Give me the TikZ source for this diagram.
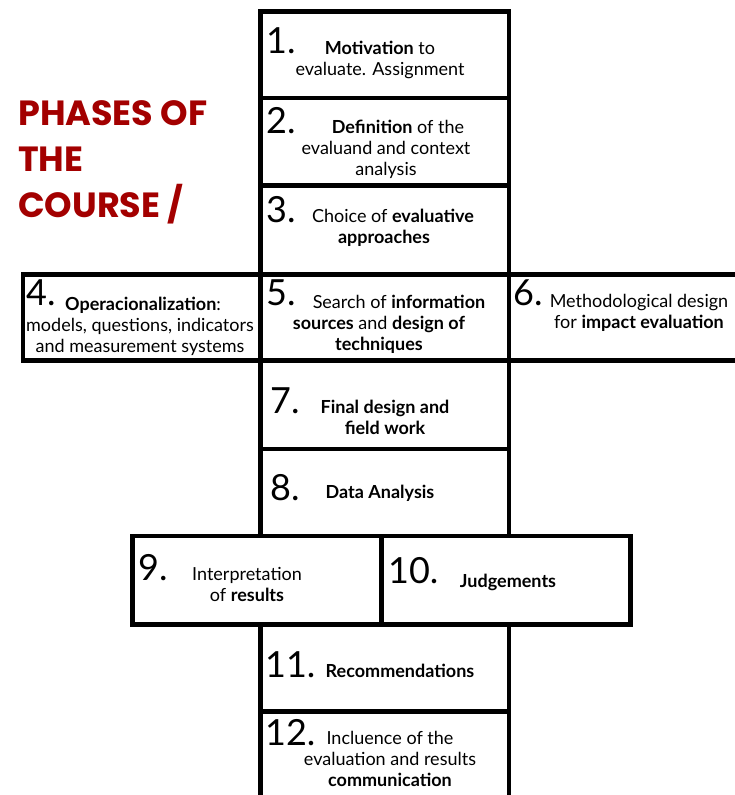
\documentclass[tikz,border=0pt]{standalone}
\usepackage{fontspec}
\setmainfont{Lato}
\newfontfamily\numfont{Lato}
\newfontfamily\titlefont{Poppins}
\definecolor{phasered}{RGB}{163,0,0}
\tikzset{
	phase/.style={draw=black,rectangle,line width=4.5pt,inner sep=0pt,outer sep=0pt,anchor=north west},
	num/.style={font=\numfont\fontsize{36}{36}\selectfont,text=black,anchor=base west,inner sep=0pt},
	txt/.style={font=\fontsize{18}{21}\selectfont,text=black,align=center,anchor=base,inner sep=0pt},
	headline/.style={font=\titlefont\bfseries\fontsize{35}{46}\selectfont,text=phasered,align=left,anchor=base west,inner sep=0pt}
}

\begin{document}
\begin{tikzpicture}[x = {(1pt,0pt)},
                    y = {(0pt,-1pt)}]

\useasboundingbox (0,0) rectangle (735,795);

% title
\node[headline] (head) at (18,217) {PHASES OF\\THE\\COURSE /};

% boxes
\node[phase,minimum width=248.5pt,minimum height=86.5pt] (b1) at (260.5,11.5) {};
\node[phase,minimum width=248.5pt,minimum height=87.5pt] (b2) at (260.5,98) {};
\node[phase,minimum width=248.5pt,minimum height=89pt] (b3) at (260.5,185.5) {};
\node[phase,minimum width=237.5pt,minimum height=86pt] (b4) at (23,274.5) {};
\node[phase,minimum width=248.5pt,minimum height=86pt] (b5) at (260.5,274.5) {};
\node[phase,minimum width=240pt,minimum height=86pt] (b6) at (509,274.5) {};
\node[phase,minimum width=248.5pt,minimum height=88.5pt] (b7) at (260.5,360.5) {};
\node[phase,minimum width=248.5pt,minimum height=87pt] (b8) at (260.5,449) {};
\node[phase,minimum width=249pt,minimum height=88.5pt] (b9) at (132.5,536) {};
\node[phase,minimum width=249pt,minimum height=88.5pt] (b10) at (381.5,536) {};
\node[phase,minimum width=248.5pt,minimum height=87pt] (b11) at (260.5,624.5) {};
\node[phase,minimum width=248.5pt,minimum height=100pt] (b12) at (260.5,711.5) {};

% numbers
\node[num] (n1) at (266,53) {1.};
\node[num] (n2) at (266,133) {2.};
\node[num] (n3) at (266,222) {3.};
\node[num] (n4) at (26,305) {4.};
\node[num] (n5) at (266,305) {5.};
\node[num] (n6) at (513,305) {6.};
\node[num] (n7) at (270,413) {7.};
\node[num] (n8) at (270,500) {8.};
\node[num] (n9) at (138,580) {9.};
\node[num] (n10) at (388,583) {10.};
\node[num] (n11) at (265,677) {11.};
\node[num] (n12) at (265,745) {12.};

% texts (anchored at the baseline of their last line)
\node[txt] (t1) at (380,75) {\textbf{Motivation} to\\evaluate. Assignment};
\node[txt] (t2) at (386,175) {\hspace*{24pt}\textbf{Definition} of the\\evaluand and context\\analysis};
\node[txt] (t3) at (384,243) {\hspace*{18pt}Choice of \textbf{evaluative}\\\textbf{approaches}};
\node[txt] (t4) at (140,352) {\hspace*{6pt}\textbf{Operacionalization}:\\models, questions, indicators\\and measurement systems};
\node[txt] (t5) at (379,350) {\hspace*{40pt}Search of \textbf{information}\\\textbf{sources} and \textbf{design of}\\\textbf{techniques}};
\node[txt] (t6) at (639,328) {Methodological design\\for \textbf{impact evaluation}};
\node[txt] (t7) at (385,434) {\textbf{Final design and}\\\textbf{field work}};
\node[txt] (t8) at (380,498) {\textbf{Data Analysis}};
\node[txt] (t9) at (247,601) {Interpretation\\of \textbf{results}};
\node[txt] (t10) at (508,587) {\textbf{Judgements}};
\node[txt] (t11) at (400,677) {\textbf{Recommendations}};
\node[txt] (t12) at (390,786) {Incluence of the\\evaluation and results\\\textbf{communication}};

\end{tikzpicture}
\end{document}
